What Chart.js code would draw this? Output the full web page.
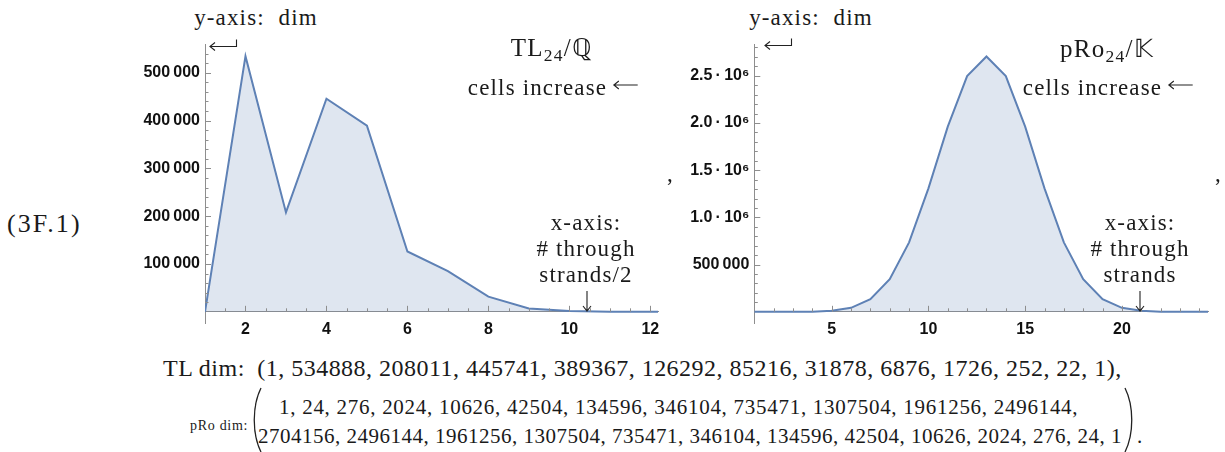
<!DOCTYPE html>
<html lang="en">
<head>
<meta charset="UTF-8">
<title>TL and pRo dimensions</title>
<script src="https://cdn.jsdelivr.net/npm/chart.js"></script>
<style>
body { margin: 0; background: #fff; }
#page { position: relative; width: 1225px; height: 452px; overflow: hidden; }
canvas { position: absolute; }
.t { position: absolute; font-family: "Liberation Serif", serif; font-size: 23px; line-height: 1; letter-spacing: 0.05em; color: #1a1a1a; white-space: nowrap; }
.c { transform: translateX(-50%); text-align: center; }
.t sub { font-size: 0.7em; vertical-align: -0.3em; line-height: 0; }
svg.abs { position: absolute; overflow: visible; }
svg.arr { display: inline-block; vertical-align: 0.2em; margin-left: 6px; }
</style>
</head>
<body>
<div id="page">
  <canvas id="tlChart" width="550" height="320" style="left:120px;top:30px"></canvas>
  <canvas id="proChart" width="530" height="320" style="left:690px;top:30px"></canvas>

  <div class="t" style="left:7px;top:211px;font-size:26px;letter-spacing:0.08em">(3F.1)</div>

  <!-- left panel notes -->
  <div class="t c" style="left:256px;top:6px">y-axis:&nbsp; dim</div>
  <svg class="abs" style="left:207px;top:37px" width="32" height="14"><path d="M3 9.5 H29.5 V2.5" fill="none" stroke="#222" stroke-width="1.1"/><path d="M8 5.5 L3 9.5 L8 13.5" fill="none" stroke="#222" stroke-width="1.1"/></svg>
  <div class="t c" style="left:552px;top:35px;font-size:25px">TL<sub>24</sub>/ℚ</div>
  <div class="t c" style="left:553px;top:76px">cells increase<svg class="arr" width="25" height="10"><path d="M1 5 H25 M6 1 L1 5 L6 9" fill="none" stroke="#222" stroke-width="1.1"/></svg></div>
  <div class="t c" style="left:586px;top:210px;line-height:26px">x-axis:<br># through<br>strands/2</div>
  <svg class="abs" style="left:580px;top:290px" width="14" height="24"><path d="M7 1 V21 M3 16 L7 21 L11 16" fill="none" stroke="#222" stroke-width="1.1"/></svg>
  <div class="t" style="left:667px;top:162px">,</div>

  <!-- right panel notes -->
  <div class="t c" style="left:811px;top:6px">y-axis:&nbsp; dim</div>
  <svg class="abs" style="left:762px;top:35.5px" width="32" height="14"><path d="M3 9.5 H29.5 V2.5" fill="none" stroke="#222" stroke-width="1.1"/><path d="M8 5.5 L3 9.5 L8 13.5" fill="none" stroke="#222" stroke-width="1.1"/></svg>
  <div class="t c" style="left:1107px;top:36px;font-size:25px">pRo<sub>24</sub>/𝕂</div>
  <div class="t c" style="left:1108px;top:76px">cells increase<svg class="arr" width="25" height="10"><path d="M1 5 H25 M6 1 L1 5 L6 9" fill="none" stroke="#222" stroke-width="1.1"/></svg></div>
  <div class="t c" style="left:1140px;top:210px;line-height:26px">x-axis:<br># through<br>strands</div>
  <svg class="abs" style="left:1133px;top:290px" width="14" height="24"><path d="M7 1 V21 M3 16 L7 21 L11 16" fill="none" stroke="#222" stroke-width="1.1"/></svg>
  <div class="t" style="left:1215px;top:162px">,</div>

  <!-- dimension lists -->
  <div class="t" id="tlLine" style="left:163px;top:356px;font-size:24px;letter-spacing:0.02em"></div>
  <div class="t" style="left:190px;top:419px;font-size:14px">pRo dim:</div>
  <svg class="abs" style="left:249px;top:386px" width="14" height="68"><path d="M12 2 C3 20 3 48 12 66" fill="none" stroke="#222" stroke-width="1.3"/></svg>
  <div class="t" id="proLine1" style="left:279px;top:397px;font-size:21px;letter-spacing:0.72px"></div>
  <div class="t" id="proLine2" style="left:258px;top:426px;font-size:21px;letter-spacing:0.5px"></div>
  <svg class="abs" style="left:1123px;top:386px" width="14" height="68"><path d="M2 2 C11 20 11 48 2 66" fill="none" stroke="#222" stroke-width="1.3"/></svg>
  <div class="t" style="left:1137px;top:426px;font-size:21px">.</div>
</div>

<script>
// dimensions, indexed by number of through strands
const tlStrands = [1, 2, 3, 4, 5, 6, 7, 8, 9, 10, 11, 12, 13];
const tlDims = [1, 534888, 208011, 445741, 389367, 126292, 85216, 31878, 6876, 1726, 252, 22, 1];
const proStrands = [1, 2, 3, 4, 5, 6, 7, 8, 9, 10, 11, 12, 13, 14, 15, 16, 17, 18, 19, 20, 21, 22, 23, 24, 25];
const proDims = [1, 24, 276, 2024, 10626, 42504, 134596, 346104, 735471, 1307504, 1961256, 2496144,
  2704156, 2496144, 1961256, 1307504, 735471, 346104, 134596, 42504, 10626, 2024, 276, 24, 1];

// tick values and labels
const tlXTicks = [2, 4, 6, 8, 10, 12];
const tlYTicks = [100000, 200000, 300000, 400000, 500000];
const tlYLabels = ['100\u2009000', '200\u2009000', '300\u2009000', '400\u2009000', '500\u2009000'];
const proXTicks = [5, 10, 15, 20];
const proYTicks = [500000, 1000000, 1500000, 2000000, 2500000];
const proYLabels = ['500\u2009000', '1.0\u2009·\u200910⁶', '1.5\u2009·\u200910⁶', '2.0\u2009·\u200910⁶', '2.5\u2009·\u200910⁶'];

const LINE = '#5e81b5';
const FILL = 'rgba(94,129,181,0.2)';
const AXIS = '#8e8e8e';
const tickFont = { family: '"Liberation Sans", Arial, sans-serif', size: 16, weight: 'bold' };

// inward major/minor tick marks, Mathematica style
const innerTicks = {
  id: 'innerTicks',
  afterDraw(chart, args, opts) {
    const { ctx, chartArea } = chart;
    const xs = chart.scales.x, ys = chart.scales.y;
    const y0 = ys.getPixelForValue(0);
    ctx.save();
    ctx.strokeStyle = AXIS;
    ctx.lineWidth = 1;
    ctx.beginPath();
    for (let v = xs.min + opts.xMinor; v <= xs.max + 1e-9; v += opts.xMinor) {
      const major = opts.xMajor.includes(Math.round(v * 1000) / 1000);
      const px = Math.round(xs.getPixelForValue(v)) + 0.5;
      ctx.moveTo(px, y0);
      ctx.lineTo(px, y0 - (major ? 6 : 3.5));
    }
    for (let v = opts.yMinor; v <= ys.max; v += opts.yMinor) {
      const major = opts.yMajor.includes(v);
      const py = Math.round(ys.getPixelForValue(v)) + 0.5;
      ctx.moveTo(chartArea.left, py);
      ctx.lineTo(chartArea.left + (major ? 6 : 3.5), py);
    }
    ctx.stroke();
    ctx.restore();
  }
};

function makeChart(id, xs, ys, cfg) {
  return new Chart(document.getElementById(id), {
    type: 'line',
    data: {
      datasets: [{
        data: xs.map((x, i) => ({ x: x, y: ys[i] })),
        borderColor: LINE,
        backgroundColor: FILL,
        fill: 'origin',
        borderWidth: 2,
        pointRadius: 0,
        tension: 0
      }]
    },
    options: {
      responsive: false,
      animation: false,
      events: [],
      layout: { padding: cfg.padding },
      plugins: {
        legend: { display: false },
        tooltip: { enabled: false },
        innerTicks: { xMajor: cfg.xTicks, xMinor: cfg.xMinor, yMajor: cfg.yTicks, yMinor: cfg.yMinor }
      },
      scales: {
        x: {
          type: 'linear',
          position: { y: 0 },
          min: cfg.xMin, max: cfg.xMax,
          afterFit: s => { s.height = 0; },
          afterBuildTicks: s => { s.ticks = cfg.xTicks.map(v => ({ value: v })); },
          grid: { display: false, drawTicks: false, tickLength: 0 },
          border: { color: AXIS, width: 1 },
          ticks: { font: tickFont, color: '#111', padding: 8, maxRotation: 0, autoSkip: false }
        },
        y: {
          type: 'linear',
          position: 'left',
          min: cfg.yMin, max: cfg.yMax,
          afterFit: s => { s.width = cfg.yWidth; },
          afterBuildTicks: s => { s.ticks = cfg.yTicks.map(v => ({ value: v })); },
          grid: { display: false, drawTicks: false, tickLength: 0 },
          border: { color: AXIS, width: 1 },
          ticks: {
            font: tickFont, color: '#111', padding: 5, autoSkip: false,
            callback: v => cfg.yLabels[cfg.yTicks.indexOf(v)]
          }
        }
      }
    },
    plugins: [innerTicks]
  });
}

makeChart('tlChart', tlStrands, tlDims, {
  xMin: 1, xMax: 12.19, yMin: -24000, yMax: 559000,
  xTicks: tlXTicks, xMinor: 0.5, yTicks: tlYTicks, yLabels: tlYLabels, yMinor: 20000,
  yWidth: 85, padding: { left: 0, right: 12, top: 11.7, bottom: 26.7 }
});

makeChart('proChart', proStrands, proDims, {
  xMin: 1, xMax: 24.45, yMin: -121600, yMax: 2830000,
  xTicks: proXTicks, xMinor: 1, yTicks: proYTicks, yLabels: proYLabels, yMinor: 100000,
  yWidth: 64.3, padding: { left: 0, right: 12, top: 11.7, bottom: 26.7 }
});

// the listed dimensions under the plots
document.getElementById('tlLine').textContent = 'TL dim:\u2002(' + tlDims.join(', ') + '),';
document.getElementById('proLine1').textContent = proDims.slice(0, 12).join(', ') + ',';
document.getElementById('proLine2').textContent = proDims.slice(12).join(', ');
</script>
</body>
</html>
